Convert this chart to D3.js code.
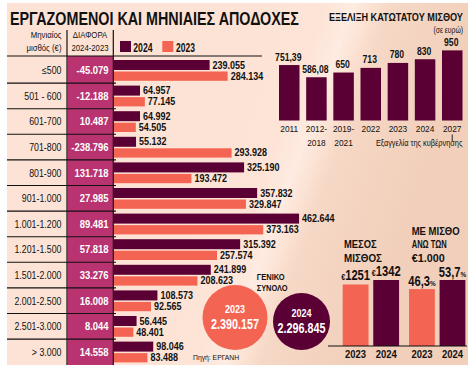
<!DOCTYPE html>
<html><head><meta charset="utf-8">
<script src="https://cdn.jsdelivr.net/npm/d3@7"></script>
<style>body{margin:0;background:#fff}svg{display:block;font-family:"Liberation Sans",Arial,sans-serif}</style>
</head><body><svg id="c" width="476" height="373"></svg>
<script>
// ---------- DATA ----------
const categories = ["≤500","501 - 600","601-700","701-800","801-900","901-1.000","1.001-1.200","1.201-1.500","1.501-2.000","2.001-2.500","2.501-3.000","> 3.000"];
const workers2024 = [239055,64957,64992,55132,325190,357832,462644,315392,241899,108573,56445,98046];
const workers2023 = [284134,77145,54505,293928,193472,329847,373163,257574,208623,92565,48401,83488];
const difference = [-45079,-12188,10487,-238796,131718,27985,89481,57818,33276,16008,8044,14558];
const minWageYears = ["2011","2012-2018","2019-2021","2022","2023","2024","2027"];
const minWageValues = [751.39,586.08,650,713,780,830,950];
const totalYears = ["2023","2024"];
const totalWorkers = [2390157,2296845];
const avgWageYears = ["2023","2024"];
const avgWage = [1251,1342];
const over1000Share = [46.3,53.7];

const DARK = "#5b0034", SALMON = "#f36552", MAGENTA = "#b8336f";
const loc = d3.formatLocale({decimal:",",thousands:".",grouping:[3],currency:["€",""],minus:"-"});
const fmtInt = loc.format(",d");
const fmtDec = v => Number.isInteger(v) ? String(v) : loc.format(".2f")(v);

const svg = d3.select("#c");
const defs = svg.append("defs");
const g0 = defs.append("linearGradient").attr("id","bg").attr("gradientUnits","userSpaceOnUse")
  .attr("x1",200).attr("y1",180).attr("x2",400).attr("y2",252);
[[0,"#fde3d5"],[0.28,"#fde4d7"],[0.4,"#feebe1"],[0.49,"#fbe1d2"],[0.56,"#f6d8c6"],[1,"#f1cfba"]]
  .forEach(([o,c])=>g0.append("stop").attr("offset",o).attr("stop-color",c));
svg.append("rect").attr("x",7).attr("y",3).attr("width",461).attr("height",362).attr("fill","url(#bg)");

function T(p,x,y,str,o={}){
  const t=p.append("text")
    .attr("text-anchor",o.anchor||"start").attr("font-size",o.size||10)
    .attr("font-weight",o.weight||"normal").attr("fill",o.fill||"#111").text(str);
  let sx=o.sx||1;
  if(o.w){ const len=t.node().getComputedTextLength(); if(len>0) sx=o.w/len; }
  t.attr("transform",`translate(${x},${y}) scale(${sx},1)`);
  return t;
}

// ---------- TITLES ----------
T(svg,10,25,"ΕΡΓΑΖΟΜΕΝΟΙ ΚΑΙ ΜΗΝΙΑΙΕΣ ΑΠΟΔΟΧΕΣ",{size:18.5,weight:"bold",w:289});
T(svg,329,20.7,"ΕΞΕΛΙΞΗ ΚΑΤΩΤΑΤΟΥ ΜΙΣΘΟΥ",{size:10.5,weight:"bold",w:134});
T(svg,463,32.5,"(σε ευρώ)",{size:8.5,anchor:"end",sx:0.8});

// ---------- LEFT TABLE ----------
const rowY = d3.scaleBand().domain(categories).range([57.5,364.7]).paddingInner(0);
const xL = d3.scaleLinear().domain([0,500000]).range([114,314]);

svg.append("rect").attr("x",67.5).attr("y",56).attr("width",45.8).attr("height",309).attr("fill",MAGENTA);
svg.append("line").attr("x1",7).attr("x2",262).attr("y1",56).attr("y2",56).attr("stroke","#111").attr("stroke-width",1.2);
[67,113.3].forEach(x=>svg.append("line").attr("x1",x).attr("x2",x).attr("y1",30).attr("y2",365).attr("stroke","#111").attr("stroke-width",1.2));
categories.slice(1).forEach(c=>svg.append("line").attr("x1",7).attr("x2",116).attr("y1",rowY(c)).attr("y2",rowY(c)).attr("stroke","#111").attr("stroke-width",1.1));

T(svg,61.5,38,"Μηνιαίος",{size:9.5,anchor:"end",sx:0.82});
T(svg,61.5,50.5,"μισθός (€)",{size:9.5,anchor:"end",sx:0.82});
T(svg,90,38,"ΔΙΑΦΟΡΑ",{size:9.5,anchor:"middle",sx:0.82});
T(svg,90,50.5,"2024-2023",{size:9.5,anchor:"middle",sx:0.82});
// legend
svg.append("rect").attr("x",120).attr("y",41).attr("width",11).attr("height",11).attr("fill",DARK);
T(svg,133.3,51.7,"2024",{size:12,weight:"bold",w:19.3});
svg.append("rect").attr("x",162.3).attr("y",41).attr("width",11).attr("height",11).attr("fill",SALMON);
T(svg,176,51.7,"2023",{size:12,weight:"bold",w:19});

const rows = svg.append("g");
categories.forEach((c,i)=>{
  const y0 = rowY(c), cy = y0 + rowY.bandwidth()/2;
  T(rows,61.5,cy+3.8,c,{size:10.5,anchor:"end",sx:0.84});
  T(rows,108.5,cy+3.8,fmtInt(difference[i]),{size:10.5,weight:"bold",anchor:"end",fill:"#fff",sx:0.9});
  rows.append("rect").attr("x",xL(0)).attr("y",y0+2.5).attr("width",xL(workers2024[i])-xL(0)).attr("height",10).attr("fill",DARK);
  rows.append("rect").attr("x",xL(0)).attr("y",y0+14).attr("width",xL(workers2023[i])-xL(0)).attr("height",9.3).attr("fill",SALMON);
  T(rows,xL(workers2024[i])+3,y0+11,fmtInt(workers2024[i]),{size:10,weight:"bold",sx:0.9});
  T(rows,xL(workers2023[i])+3,y0+22,fmtInt(workers2023[i]),{size:10,weight:"bold",sx:0.9});
});
T(svg,193,360,"Πηγή: ΕΡΓΑΝΗ",{size:8,sx:0.85});

// ---------- MINIMUM WAGE ----------
const xM = d3.scaleBand().domain(minWageYears).range([279,462.5]).paddingInner(0.245).paddingOuter(0);
const yM = d3.scaleLinear().domain([0,1000]).range([120.5,46.7]);
const mg = svg.append("g");
minWageYears.forEach((yr,i)=>{
  const cx = xM(yr)+xM.bandwidth()/2;
  mg.append("rect").attr("x",xM(yr)).attr("y",yM(minWageValues[i])).attr("width",xM.bandwidth()).attr("height",yM(0)-yM(minWageValues[i])).attr("fill",DARK);
  T(mg,cx-1,yM(minWageValues[i])-4.5,fmtDec(minWageValues[i]),{size:10.5,weight:"bold",anchor:"middle",sx:0.82});
  const parts = yr.includes("-") ? [yr.slice(0,5),yr.slice(5)] : [yr];
  parts.forEach((p,k)=>T(mg,cx,132.3+k*13.4,p,{size:9.8,anchor:"middle",sx:0.85}));
});
const c27 = xM("2027")+xM.bandwidth()/2;
mg.append("line").attr("x1",c27).attr("x2",c27).attr("y1",134.5).attr("y2",141).attr("stroke","#111").attr("stroke-width",0.9);
T(mg,462.5,145.7,"Εξαγγελία της κυβέρνησης",{size:9,anchor:"end",sx:0.82});

// ---------- TOTAL CIRCLES ----------
const rC = d3.scaleLinear().domain([2296845,2390157]).range([28.5,32.5]);
const circCx = [235,301.5], circCy=[317.5,321.5];
const circColors=[SALMON,DARK];
totalYears.forEach((yr,i)=>{
  svg.append("circle").attr("cx",circCx[i]).attr("cy",circCy[i]).attr("r",rC(totalWorkers[i])).attr("fill",circColors[i]);
  T(svg,circCx[i],circCy[i]-4.5,yr,{size:10,weight:"bold",anchor:"middle",fill:"#fff",sx:0.9});
  T(svg,circCx[i],circCy[i]+11.8,fmtInt(totalWorkers[i]),{size:15,weight:"bold",anchor:"middle",fill:"#fff",sx:0.72});
});
T(svg,256.7,280,"ΓΕΝΙΚΟ",{size:9.5,weight:"bold",w:28});
T(svg,256.7,291,"ΣΥΝΟΛΟ",{size:9.5,weight:"bold",w:31});

// ---------- BOTTOM RIGHT ----------
const groups = ["avg","share"];
const xG = d3.scaleBand().domain(groups).range([342.7,465.4]).paddingInner(0.15).paddingOuter(0);
const xI = d3.scaleBand().domain(avgWageYears).range([0,xG.bandwidth()]).paddingInner(0.155).paddingOuter(0);
const yE = d3.scaleLinear().domain([0,1342]).range([346,280]);
const yP = d3.scaleLinear().domain([0,53.7]).range([346,280]);
const br = svg.append("g");
const colsBR=[SALMON,DARK];
avgWageYears.forEach((yr,i)=>{
  const x = xG("avg")+xI(yr);
  br.append("rect").attr("x",x).attr("y",yE(avgWage[i])).attr("width",xI.bandwidth()).attr("height",yE(0)-yE(avgWage[i])).attr("fill",colsBR[i]);
  const t = br.append("text").attr("transform",`translate(${x+xI.bandwidth()/2},${yE(avgWage[i])-4}) scale(0.8,1)`).attr("text-anchor","middle").attr("font-weight","bold").attr("fill","#111");
  t.append("tspan").attr("font-size",9).text("€");
  t.append("tspan").attr("font-size",14).text(avgWage[i]);
  T(br,x+xI.bandwidth()/2,357.5,yr,{size:11,weight:"bold",anchor:"middle",sx:0.86});
});
over1000Share.forEach((v,i)=>{
  const yr = avgWageYears[i];
  const x = xG("share")+xI(yr);
  br.append("rect").attr("x",x).attr("y",yP(v)).attr("width",xI.bandwidth()).attr("height",yP(0)-yP(v)).attr("fill",colsBR[i]);
  const t = br.append("text").attr("transform",`translate(${x+xI.bandwidth()/2},${yP(v)-3.5}) scale(0.8,1)`).attr("text-anchor","middle").attr("font-weight","bold").attr("fill","#111");
  t.append("tspan").attr("font-size",14).text(loc.format(".1f")(v));
  t.append("tspan").attr("font-size",8).text("%");
  T(br,x+xI.bandwidth()/2,357.5,yr,{size:11,weight:"bold",anchor:"middle",sx:0.86});
});
br.append("line").attr("x1",328).attr("x2",467).attr("y1",346).attr("y2",346).attr("stroke","#111").attr("stroke-width",1.2);
T(br,344,247.5,"ΜΕΣΟΣ",{size:11,weight:"bold",w:32.7});
T(br,344,261.7,"ΜΙΣΘΟΣ",{size:11,weight:"bold",w:38});
T(br,411.7,235,"ΜΕ ΜΙΣΘΟ",{size:11,weight:"bold",w:48});
T(br,411.7,248.3,"ΑΝΩ ΤΩΝ",{size:11,weight:"bold",w:35});
T(br,411.7,261.7,"€1.000",{size:11,weight:"bold",w:33});
</script></body></html>
